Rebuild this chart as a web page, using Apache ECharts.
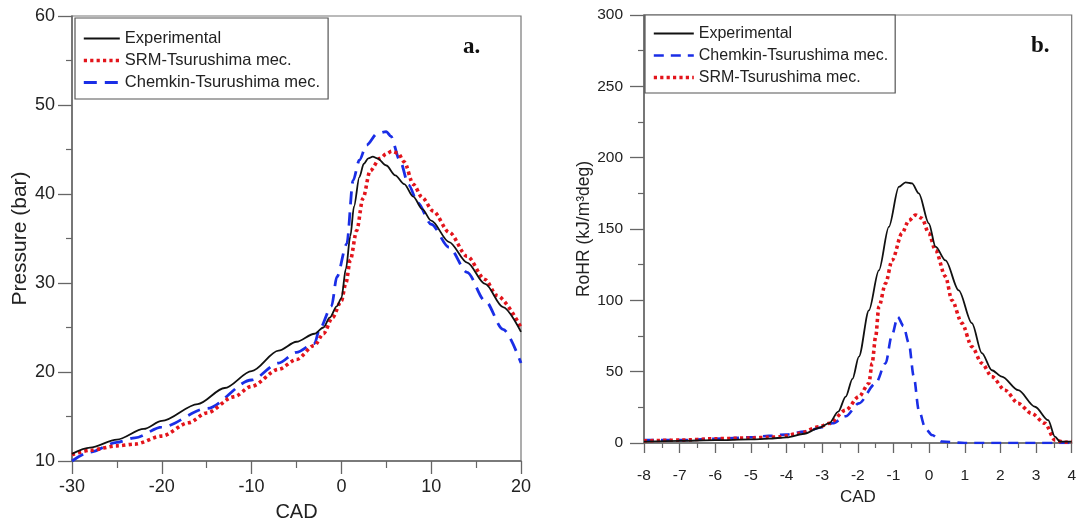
<!DOCTYPE html>
<html>
<head>
<meta charset="utf-8">
<script src="https://cdn.jsdelivr.net/npm/echarts@6/dist/echarts.min.js"></script>
<style>
html,body{margin:0;padding:0;background:#fff;}
#chart{width:1079px;height:527px;}
</style>
</head>
<body>
<div id="chart"></div>
<script>
// ---- Panel a: Pressure (bar) vs CAD ----
const pressExp = [[-30,10.8],[-28,11.5],[-25,12.4],[-22,13.6],[-20,14.5],[-16,16.4],[-13,18.2],[-10,20.1],[-7,22.4],[-5,23.4],[-3,24.3],[-2,25.0],[-1.3,26.1],[-0.5,27.4],[0,28.3],[0.5,31.6],[1,35.3],[1.4,38.6],[2,41.9],[2.5,43.4],[3,44.0],[3.5,44.2],[4,44.0],[5,43.2],[6,42.1],[7,41.1],[8,39.7],[9,38.3],[10,37.0],[12,34.6],[14,32.3],[16,29.9],[18,27.3],[20,24.5]];
const pressSRM = [[-30,10.7],[-28,11.2],[-25,11.7],[-23,11.9],[-20,12.8],[-17,14.3],[-15,15.4],[-12,17.2],[-10,18.4],[-7,20.3],[-5,21.4],[-3,23.0],[-2,24.3],[-1,26.1],[0,28.0],[0.5,30.0],[1,32.6],[1.7,35.9],[2.4,39.5],[3.2,42.6],[4.3,44.0],[5,44.5],[5.6,44.8],[6.3,44.6],[7,43.6],[8,41.1],[9,39.6],[10.2,38.1],[12,35.7],[14,33.0],[16,30.4],[17.3,28.6],[20,25.0]];
const pressChem = [[-30,10.0],[-28,11.0],[-25,12.1],[-23,12.6],[-20,13.8],[-15,15.9],[-10,19.1],[-7,21.0],[-5,22.2],[-3,23.2],[-2.4,24.9],[-1.1,27.4],[-0.5,30.7],[0.6,34.4],[1.3,41.5],[2,43.8],[2.8,45.5],[4,46.8],[5,47.0],[5.5,46.5],[6.5,43.8],[7.5,41.0],[8.5,39.0],[10,36.6],[12,34.0],[14,31.2],[16,28.0],[18,24.8],[20,21.0]];

// ---- Panel b: RoHR (kJ/m3deg) vs CAD ----
const rohrExp = [[-8,1],[-7,1.5],[-6,2],[-5,2.5],[-4.5,3],[-4,4],[-3.5,6.5],[-3.1,10.5],[-2.8,14],[-2.55,22],[-2.34,32.5],[-2.15,45],[-1.97,60.5],[-1.69,93],[-1.41,121],[-1.13,151.5],[-0.85,179.5],[-0.66,182.7],[-0.48,182],[-0.29,175],[-0.01,154],[0.18,137.6],[0.46,128],[0.83,107],[1.2,84],[1.48,63],[1.76,51],[2.04,46.5],[2.5,37],[2.97,25.4],[3.34,16],[3.53,4.4],[3.67,1],[4,1]];
const rohrChem = [[-8,2],[-7,2],[-6,3],[-5,4],[-4.5,5],[-4,6],[-3.5,8],[-3,11],[-2.71,13.8],[-2.34,18.7],[-1.97,27.8],[-1.5,41.8],[-1.22,55.9],[-1.05,75],[-0.88,88.5],[-0.72,82],[-0.57,70],[-0.43,46.5],[-0.29,23],[-0.1,10],[0.08,5.6],[0.36,1],[1,0],[2,0],[3,0],[3.5,0],[4,0]];
const rohrSRM = [[-8,1.5],[-7,2],[-6,3],[-5,3.5],[-4.5,4],[-4.2,4.4],[-3.64,6.8],[-3.08,11.4],[-2.8,13.8],[-2.34,23],[-1.97,32.5],[-1.69,41.8],[-1.6,55.9],[-1.5,74.5],[-1.41,95.5],[-1.22,112],[-1.04,128],[-0.76,147],[-0.57,156],[-0.38,159.8],[-0.2,157.5],[-0.01,147],[0.18,135],[0.46,116.6],[0.64,100],[0.92,84],[1.2,67.5],[1.48,55.9],[1.76,46.5],[2.13,37],[2.5,27.8],[2.87,20.8],[3.25,13.8],[3.53,2],[3.8,0.5],[4,1]];

const nameExp = 'Experimental';
const nameSRM = 'SRM-Tsurushima mec.';
const nameChem = 'Chemkin-Tsurushima mec.';

const FONT = 'Liberation Sans, Arial, sans-serif';
const TXT = '#222';
const AX = '#666';
const RED = '#e3141b';
const BLUE = '#1a2ee6';
const BLACK = '#111';

const chart = echarts.init(document.getElementById('chart'), null, {renderer:'canvas'});

function xAxisCfg(idx, min, max, interval, fs, margin, nameFs, nameGap, tickLen, minorLen){
  return {
    type:'value', gridIndex:idx, min:min, max:max, interval:interval,
    name:'CAD', nameLocation:'middle', nameGap:nameGap,
    nameTextStyle:{fontSize:nameFs, color:TXT, fontFamily:FONT},
    axisLine:{show:true, onZero:false, lineStyle:{color:AX, width:1.5}},
    axisTick:{show:true, length:tickLen, lineStyle:{color:AX, width:1.3}},
    minorTick:{show:true, splitNumber:2, length:minorLen, lineStyle:{color:AX, width:1.2}},
    axisLabel:{fontSize:fs, color:TXT, fontFamily:FONT, margin:margin},
    splitLine:{show:false}
  };
}
function yAxisCfg(idx, min, max, interval, fs, margin, name, nameFs, nameGap, tickLen, minorLen){
  return {
    type:'value', gridIndex:idx, min:min, max:max, interval:interval,
    name:name, nameLocation:'middle', nameGap:nameGap,
    nameTextStyle:{fontSize:nameFs, color:TXT, fontFamily:FONT},
    axisLine:{show:true, onZero:false, lineStyle:{color:AX, width:1.5}},
    axisTick:{show:true, length:tickLen, lineStyle:{color:AX, width:1.3}},
    minorTick:{show:true, splitNumber:2, length:minorLen, lineStyle:{color:AX, width:1.2}},
    axisLabel:{fontSize:fs, color:TXT, fontFamily:FONT, margin:margin},
    splitLine:{show:false}
  };
}

const expStyle = {color:BLACK, width:1.8, type:'solid'};
const srmStyle = {color:RED, width:3.6, type:[3.2,3.2]};
const chemStyleA = {color:BLUE, width:2.8, type:[13,8]};
const chemStyleB = {color:BLUE, width:2.6, type:[10,7]};
const hideSym = {opacity:0};

function ser(name, data, xi, yi, ls, z){
  return {
    name:name, type:'line', xAxisIndex:xi, yAxisIndex:yi, data:data,
    symbol:'none', smooth:0.3, smoothMonotone:'x', lineStyle:ls, itemStyle:{color:ls.color},
    z:z, animation:false
  };
}

const option = {
  animation:false,
  backgroundColor:'#fff',
  grid:[
    {left:72, top:16, width:449, height:451, show:true, borderColor:'#777', borderWidth:1.2, containLabel:false},
    {left:644, top:15, width:430, height:428, show:true, borderColor:'#777', borderWidth:1.2, containLabel:false}
  ],
  xAxis:[
    xAxisCfg(0, -30, 20, 10, 18, 17, 20, 41, 13, 7),
    xAxisCfg(1, -8, 4, 1, 15.5, 25, 17, 45, 10, 5)
  ],
  yAxis:[
    yAxisCfg(0, 10, 60, 10, 18, 17, 'Pressure (bar)', 21, 41, 14, 6),
    yAxisCfg(1, 0, 300, 50, 15.5, 21, 'RoHR (kJ/m\u00b3deg)', 17.5, 50, 14, 6)
  ],
  legend:[
    {
      orient:'vertical', left:75, top:18,
      padding:[12,8,8,7], itemGap:5, itemWidth:36, itemHeight:14,
      borderColor:'#555', borderWidth:1.2, backgroundColor:'#fff',
      textStyle:{fontSize:16.5, color:TXT, fontFamily:FONT, lineHeight:17},
      selectedMode:false,
      itemStyle:hideSym,
      data:[
        {name:nameExp, lineStyle:expStyle, itemStyle:hideSym},
        {name:nameSRM, lineStyle:srmStyle, itemStyle:hideSym},
        {name:nameChem, lineStyle:chemStyleA, itemStyle:hideSym}
      ]
    },
    {
      orient:'vertical', left:645, top:15,
      padding:[10,7,7,7], itemGap:5, itemWidth:40, itemHeight:14,
      borderColor:'#555', borderWidth:1.2, backgroundColor:'#fff',
      textStyle:{fontSize:16, color:TXT, fontFamily:FONT, lineHeight:17},
      selectedMode:false,
      itemStyle:hideSym,
      data:[
        {name:nameExp, lineStyle:expStyle, itemStyle:hideSym},
        {name:nameChem, lineStyle:chemStyleB, itemStyle:hideSym},
        {name:nameSRM, lineStyle:srmStyle, itemStyle:hideSym}
      ]
    }
  ],
  graphic:[
    {type:'text', left:463, top:36, style:{text:'a.', font:'bold 23px "Liberation Serif", "Times New Roman", serif', fill:'#111'}},
    {type:'text', left:1031, top:35, style:{text:'b.', font:'bold 23px "Liberation Serif", "Times New Roman", serif', fill:'#111'}}
  ],
  series:[
    ser(nameExp, pressExp, 0, 0, expStyle, 5),
    ser(nameSRM, pressSRM, 0, 0, srmStyle, 4),
    ser(nameChem, pressChem, 0, 0, chemStyleA, 3),
    ser(nameExp, rohrExp, 1, 1, expStyle, 5),
    ser(nameChem, rohrChem, 1, 1, chemStyleB, 3),
    ser(nameSRM, rohrSRM, 1, 1, srmStyle, 4)
  ]
};
chart.setOption(option);
</script>
</body>
</html>
